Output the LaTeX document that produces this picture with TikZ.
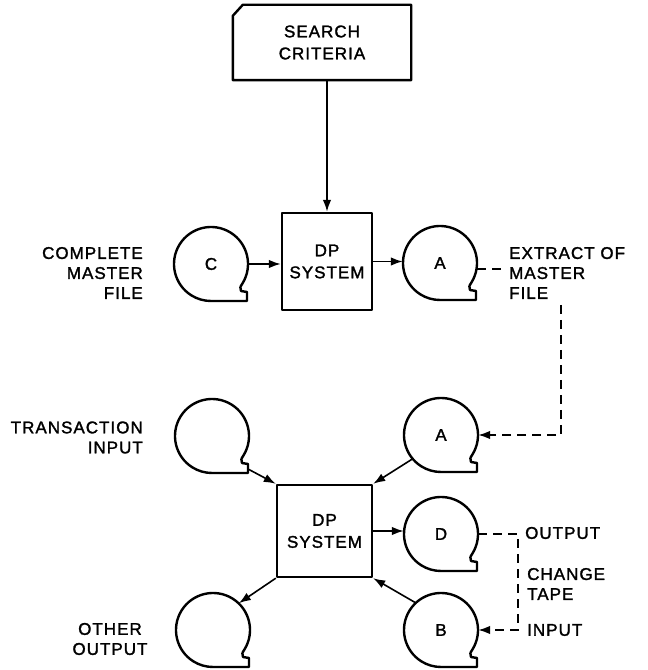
\documentclass[tikz,border=0pt]{standalone}
\usepackage{fontspec}
\setmainfont{Liberation Sans}[LetterSpace=6,FakeBold=1.6]
\usetikzlibrary{arrows.meta,calc}
\newcommand\tapeoutline[1]{%
  \draw[shapeline] ([shift={(-32:37)}]#1.center) arc[start angle=-32,end angle=270,radius=37]
    -- ++(36,0) -- ++(0,9) -- ++(-6,1)
    .. controls +(-1.5,3) and +(-2,-3) .. ([shift={(-32:37)}]#1.center) -- cycle;}
\begin{document}
\begin{tikzpicture}[x=1pt,y=1pt,
  shapeline/.style={line width=2.4pt, line join=round},
  tip/.style={-{Latex[length=12pt,width=8.5pt]}},
  conn/.style={line width=1.6pt, tip},
  dconn/.style={line width=1.6pt, dash pattern=on 9pt off 6pt},
  tapenode/.style={circle, minimum size=74pt, inner sep=0pt, font=\fontsize{17}{20}\selectfont},
  boxnode/.style={draw, shapeline, rectangle, inner sep=0pt, align=center, font=\fontsize{17}{22}\selectfont},
  lbl/.style={inner sep=0pt, font=\fontsize{17}{20}\selectfont}
]
\useasboundingbox (0,0) rectangle (648,670);
% search criteria card
\node[lbl, align=center, minimum width=178pt, minimum height=75pt, font=\fontsize{17}{22}\selectfont] (card) at (322,627.5) {SEARCH\\CRITERIA};
\draw[shapeline] (card.south west) -- ([yshift=-11pt]card.north west) -- ([xshift=10pt]card.north west) -- (card.north east) -- (card.south east) -- cycle;
% processing boxes
\node[boxnode, minimum width=90pt, minimum height=97pt] (dp1) at (327,408.5) {DP\\SYSTEM};
\node[boxnode, minimum width=95pt, minimum height=92pt] (dp2) at (324.5,139) {DP\\SYSTEM};
% tapes
\node[tapenode] (C) at (211,406) {C};
\node[tapenode] (A1) at (440,407) {A};
\node[tapenode] (A2) at (441,235) {A};
\node[tapenode] (TI) at (212,234) {};
\node[tapenode] (D) at (441,136) {D};
\node[tapenode] (B) at (441,40) {B};
\node[tapenode] (OO) at (213,40) {};
\foreach \n in {C,A1,A2,TI,D,B,OO} {\tapeoutline{\n}}
% labels
\node[lbl, align=right, anchor=east] (cmf) at (143,397) {COMPLETE\\MASTER\\FILE};
\node[lbl, align=left, anchor=west] (ext) at (509,397) {EXTRACT OF\\MASTER\\FILE};
\node[lbl, align=right, anchor=east] (tin) at (143,232.5) {TRANSACTION\\INPUT};
\node[lbl, align=center] (oth) at (110,31) {OTHER\\OUTPUT};
\node[lbl, anchor=west] (outl) at (525,137) {OUTPUT};
\node[lbl, align=left, anchor=west] (cht) at (527,86) {CHANGE\\TAPE};
\node[lbl, anchor=west] (inl) at (527,40) {INPUT};
% connectors
\draw[conn] (card.south -| dp1.north) -- (dp1.north);
\draw[conn] (C.east) -- (C.east -| dp1.west);
\draw[conn] (dp1.east) -- (dp1.east -| A1.west);
\draw[dconn] ([yshift=-6pt]A1.east) -- ([xshift=-3pt,yshift=-6pt]A1.east -| ext.west);
\coordinate (k1) at (561,365);
\draw[dconn, tip] (k1) |- (A2.east);
\draw[conn] ([shift={(36,-33)}]TI.center) -- (dp2.north west);
\draw[conn] (A2.220) -- (dp2.north east);
\draw[conn] (dp2.south west) -- (OO.46);
\draw[conn] (B.133) -- (dp2.south east);
\draw[conn] (dp2.east) -- (dp2.east -| D.west);
\coordinate (k2) at (518,137);
\draw[dconn, tip] (D.east) -- (D.east -| k2) -- (k2 |- B.east) -- (B.east);
\end{tikzpicture}
\end{document}
